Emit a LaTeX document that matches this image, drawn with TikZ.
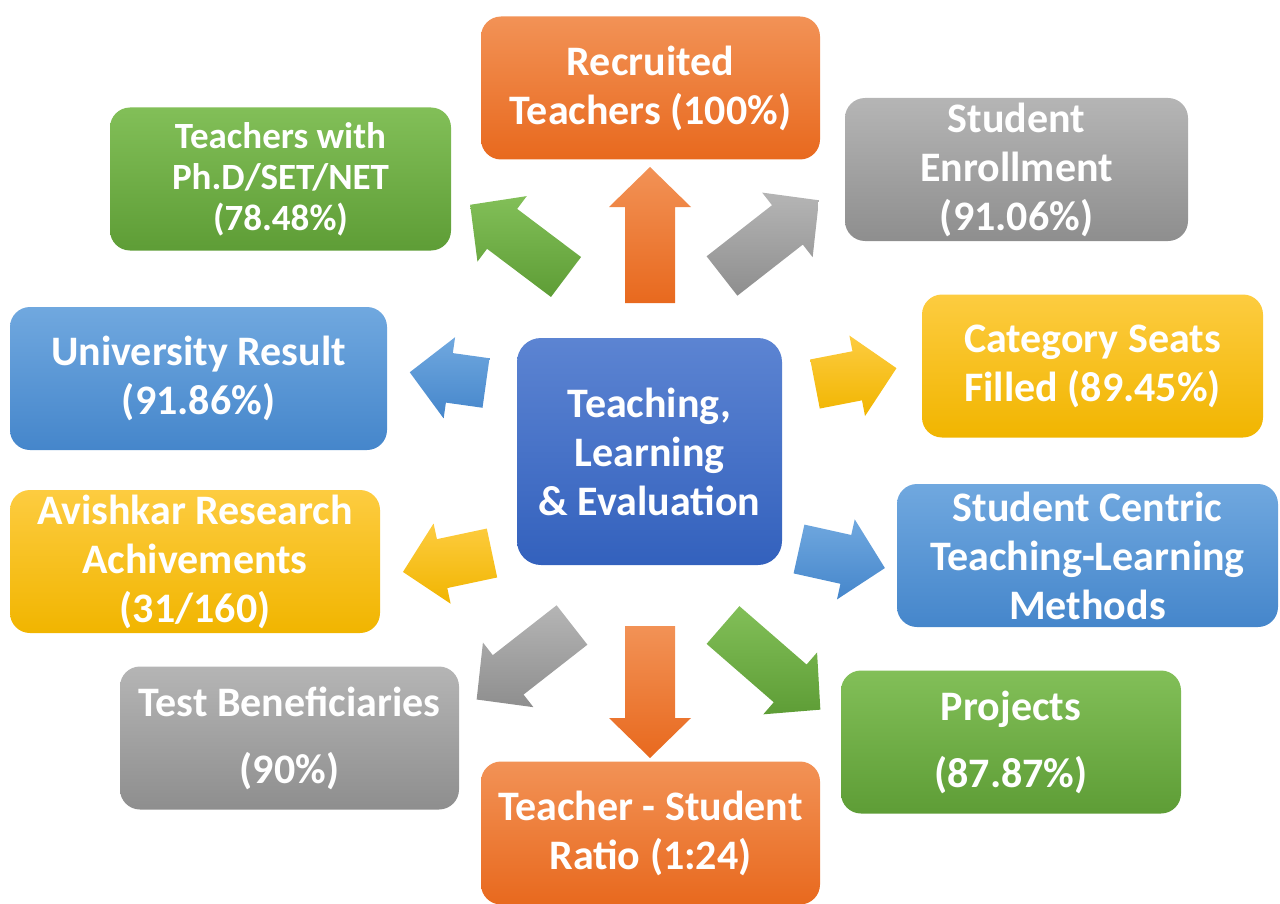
\documentclass[tikz,border=0pt]{standalone}
\usepackage{fontspec}
\setmainfont{Carlito}

\definecolor{orangeTop}{HTML}{F29256}
\definecolor{orangeBot}{HTML}{E8691E}
\definecolor{grayTop}{HTML}{B5B5B5}
\definecolor{grayBot}{HTML}{8E8E8E}
\definecolor{greenTop}{HTML}{82BF58}
\definecolor{greenBot}{HTML}{5E9D36}
\definecolor{blueTop}{HTML}{70A8DF}
\definecolor{blueBot}{HTML}{4586CB}
\definecolor{yellowTop}{HTML}{FDCC40}
\definecolor{yellowBot}{HTML}{F1B500}
\definecolor{navyTop}{HTML}{5C84D2}
\definecolor{navyBot}{HTML}{3361BD}

\begin{document}
\begin{tikzpicture} [
                x=0.5pt, y=-0.5pt,
                box/.style = {rounded corners=10pt, minimum height=71.5pt, inner sep=0pt,
                    align=center, text=white, font=\bfseries\fontsize{21}{24.5}\selectfont},
                orange box/.style = {box, top color=orangeTop, bottom color=orangeBot},
                gray box/.style = {box, top color=grayTop, bottom color=grayBot},
                green box/.style = {box, top color=greenTop, bottom color=greenBot},
                green small box/.style = {green box, font=\bfseries\fontsize{18.5}{20.5}\selectfont},
                blue box/.style = {box, top color=blueTop, bottom color=blueBot},
                yellow box/.style = {box, top color=yellowTop, bottom color=yellowBot},
                hub box/.style = {box, rounded corners=12pt, minimum height=113.5pt,
                    top color=navyTop, bottom color=navyBot},
                orange arrow/.style = {top color=orangeTop, bottom color=orangeBot},
                gray arrow/.style = {top color=grayTop, bottom color=grayBot},
                green arrow/.style = {top color=greenTop, bottom color=greenBot},
                blue arrow/.style = {top color=blueTop, bottom color=blueBot},
                yellow arrow/.style = {top color=yellowTop, bottom color=yellowBot},
            ]
            \useasboundingbox (0,0) rectangle (1280,904);
            % First the centre box
            \node[hub box, minimum width=132.5pt] (hub) at (649.5,451.5)
                {Teaching,\\Learning\\\& Evaluation};
            % Then the boxes round it
            \foreach \pos/\name/\boxw/\col/\label in {
                    {(650.5,88)/recruited/169.5/orange box/{Recruited\\Teachers (100\%)}},
                    {(280.5,179)/phd/170.5/green small box/{Teachers with\\Ph.D/SET/NET\\(78.48\%)}},
                    {(1016.5,169.5)/enrollment/171.5/gray box/{Student\\Enrollment\\(91.06\%)}},
                    {(198.5,378.5)/result/188.5/blue box/{University Result\\(91.86\%)}},
                    {(1092.5,366)/seats/170.5/yellow box/{Category Seats\\Filled (89.45\%)}},
                    {(195,561.5)/avishkar/185/yellow box/{Avishkar Research\\Achivements\\(31/160)}},
                    {(1087.5,555.5)/centric/190.5/blue box/{Student Centric\\Teaching-Learning\\Methods}},
                    {(289.5,738)/beneficiaries/169.5/gray box/{Test Beneficiaries\\[9pt](90\%)}},
                    {(1011,742)/projects/170/green box/{Projects\\[9pt](87.87\%)}},
                    {(650.5,833)/ratio/169.5/orange box/{Teacher - Student\\Ratio (1:24)}}}
                \node[\col, minimum width=\boxw pt] (\name) at \pos {\label};
            % Block arrows pointing out of the centre
            \foreach \pos/\ang/\len/\col in {
                    {(566,277)/143/120/green arrow},
                    {(650,303)/90/136/orange arrow},
                    {(722,276)/38/123/gray arrow},
                    {(486,383)/172/77/blue arrow},
                    {(815,384)/11/83/yellow arrow},
                    {(492,553)/192/91/yellow arrow},
                    {(799,549)/-12.5/88/blue arrow},
                    {(572,625)/218/121/gray arrow},
                    {(650,626)/-90/132/orange arrow},
                    {(723,625)/-41/129/green arrow}}
                \path[\col, shift={\pos}, rotate=\ang]
                    (0,-25) -- ({\len-40},-25) -- ({\len-40},-41) -- (\len,0)
                    -- ({\len-40},41) -- ({\len-40},25) -- (0,25) -- cycle;
        \end{tikzpicture}
\end{document}
